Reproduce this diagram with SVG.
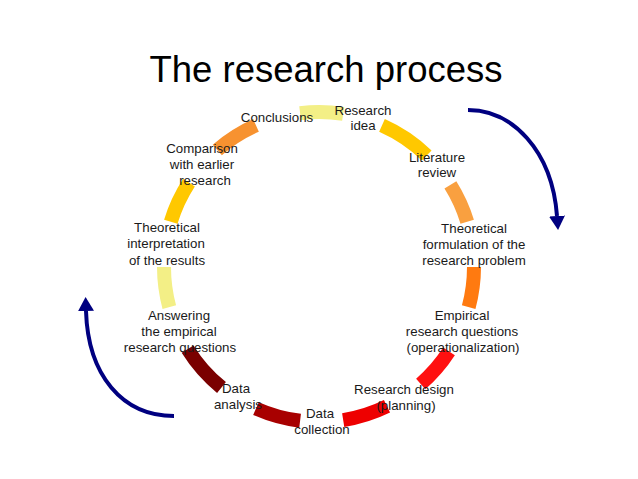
<svg xmlns="http://www.w3.org/2000/svg" width="638" height="479" viewBox="0 0 638 479">
<style>
.seg{fill:none;stroke-width:14;stroke-linecap:butt}
.lbl{font-family:"Liberation Sans",Arial,sans-serif;font-size:13.3px;fill:#1a1a1a;text-anchor:middle}
.title{font-family:"Liberation Sans",Arial,sans-serif;font-size:36.5px;fill:#000;text-anchor:middle}
.arr{fill:none;stroke:#000080;stroke-width:4}
</style>
<defs>
<marker id="ah" markerUnits="userSpaceOnUse" markerWidth="16" markerHeight="16" refX="0" refY="8" orient="auto" viewBox="0 0 16 16">
<path d="M0,0 L14,8 L0,16 z" fill="#000080"/>
</marker>
</defs>
<rect width="638" height="479" fill="#fff"/>
<text class="title" x="326" y="82">The research process</text>
<g id="connectors">
<path class="arr" d="M468,110 C512,110 552,150 557,216" marker-end="url(#ah)"/>
<path class="arr" d="M174,416 C122,416 88,375 86,311" marker-end="url(#ah)"/>
</g>
<g id="ring">
<path class="seg" stroke="#F3EF86" d="M300.1,113.2 A155,155 0 0 1 343.2,113.9"/>
<path class="seg" stroke="#FFC800" d="M382,125.4 A155,155 0 0 1 426.7,155.5"/>
<path class="seg" stroke="#F9A040" d="M450.4,184.9 A155,155 0 0 1 467.2,221.7"/>
<path class="seg" stroke="#FF7A10" d="M474,267 A155,155 0 0 1 468.7,307.1"/>
<path class="seg" stroke="#FF1010" d="M449,351.4 A155,155 0 0 1 420.7,384"/>
<path class="seg" stroke="#EE0000" d="M387,406.3 A155,155 0 0 1 343.2,420.1"/>
<path class="seg" stroke="#A80000" d="M300.1,420.8 A155,155 0 0 1 256,408.6"/>
<path class="seg" stroke="#7A0000" d="M221.5,387.5 A155,155 0 0 1 187.6,349.1"/>
<path class="seg" stroke="#F3EF86" d="M169.3,307.1 A155,155 0 0 1 164,267"/>
<path class="seg" stroke="#FFC800" d="M170.8,221.7 A155,155 0 0 1 189,182.6"/>
<path class="seg" stroke="#F79230" d="M217.3,150 A155,155 0 0 1 256,125.4"/>
</g>
<g id="research-idea"><text class="lbl" x="363" y="115">Research</text><text class="lbl" x="363" y="130">idea</text></g>
<g id="literature-review"><text class="lbl" x="437" y="162">Literature</text><text class="lbl" x="437" y="177">review</text></g>
<g id="theoretical-formulation"><text class="lbl" x="474" y="233">Theoretical</text><text class="lbl" x="474" y="249">formulation of the</text><text class="lbl" x="474" y="265">research problem</text></g>
<g id="empirical-questions"><text class="lbl" x="462" y="320">Empirical</text><text class="lbl" x="462" y="336">research questions</text><text class="lbl" x="463" y="352">(operationalization)</text></g>
<g id="research-design"><text class="lbl" x="404" y="394">Research design</text><text class="lbl" x="406" y="410">(planning)</text></g>
<g id="data-collection"><text class="lbl" x="320" y="418">Data</text><text class="lbl" x="322" y="434">collection</text></g>
<g id="data-analysis"><text class="lbl" x="236" y="393">Data</text><text class="lbl" x="238" y="409">analysis</text></g>
<g id="answering"><text class="lbl" x="179" y="320">Answering</text><text class="lbl" x="179" y="336">the empirical</text><text class="lbl" x="180" y="352">research questions</text></g>
<g id="theoretical-interpretation"><text class="lbl" x="167" y="232">Theoretical</text><text class="lbl" x="166" y="248">interpretation</text><text class="lbl" x="167" y="265">of the results</text></g>
<g id="comparison"><text class="lbl" x="202" y="153">Comparison</text><text class="lbl" x="202" y="169">with earlier</text><text class="lbl" x="205" y="185">research</text></g>
<g id="conclusions"><text class="lbl" x="277" y="122">Conclusions</text></g>
</svg>
